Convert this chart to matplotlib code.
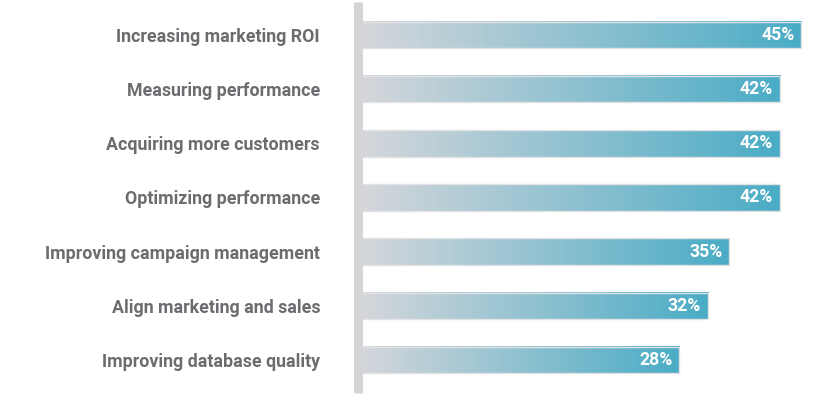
import matplotlib
matplotlib.use('Agg')
import matplotlib.pyplot as plt
import numpy as np

# Data
categories = ['Increasing marketing ROI', 'Measuring performance', 'Acquiring more customers',
              'Optimizing performance', 'Improving campaign management', 'Align marketing and sales',
              'Improving database quality']
values = [45, 42, 42, 42, 35, 32, 28]
value_labels = ['45%', '42%', '42%', '42%', '35%', '32%', '28%']

plt.rcParams['font.family'] = ['Roboto', 'DejaVu Sans']

BASE = -16.6  # where the bars start on the value axis
bar_h = 0.49
grad_start = np.array([214, 215, 219]) / 255
grad_end = np.array([74, 172, 198]) / 255
grad = np.linspace(0, 1, 256)[None, :, None]
grad_img = grad_start + (grad_end - grad_start) * grad

fig = plt.figure(figsize=(8.35, 4.11), dpi=100)
ax = fig.add_axes([357.5 / 835, 18 / 411, 1 - 357.5 / 835, 391 / 411])

y = np.arange(len(categories))
for yi, v, lab in zip(y, values, value_labels):
    ax.imshow(grad_img, extent=(BASE, v, yi + bar_h / 2, yi - bar_h / 2),
              aspect='auto', interpolation='bilinear', zorder=2)
    ax.text(v - 0.9, yi, lab, ha='right', va='center', color='white',
            fontsize=12.7, fontweight='bold', zorder=4)
ax.barh(y, np.array(values) - BASE, left=BASE, height=bar_h, fill=False,
        edgecolor='#e2e2e4', linewidth=1, zorder=3)

ax.set_xlim(BASE, 49.7)
ax.set_ylim(len(categories) - 1 + 0.608, -0.608)
ax.set_yticks(y)
ax.set_yticklabels(categories, fontsize=12.8, fontweight='bold', color='#6b6c6f')
ax.tick_params(axis='y', length=0, pad=27)
ax.set_xticks([])
for s in ['top', 'right', 'bottom']:
    ax.spines[s].set_visible(False)
ax.spines['left'].set_linewidth(6.5)
ax.spines['left'].set_color('#d5d5d8')
ax.spines['left'].set_capstyle('butt')
ax.spines['left'].set_zorder(5)

fig.savefig('out.png', dpi=100)
